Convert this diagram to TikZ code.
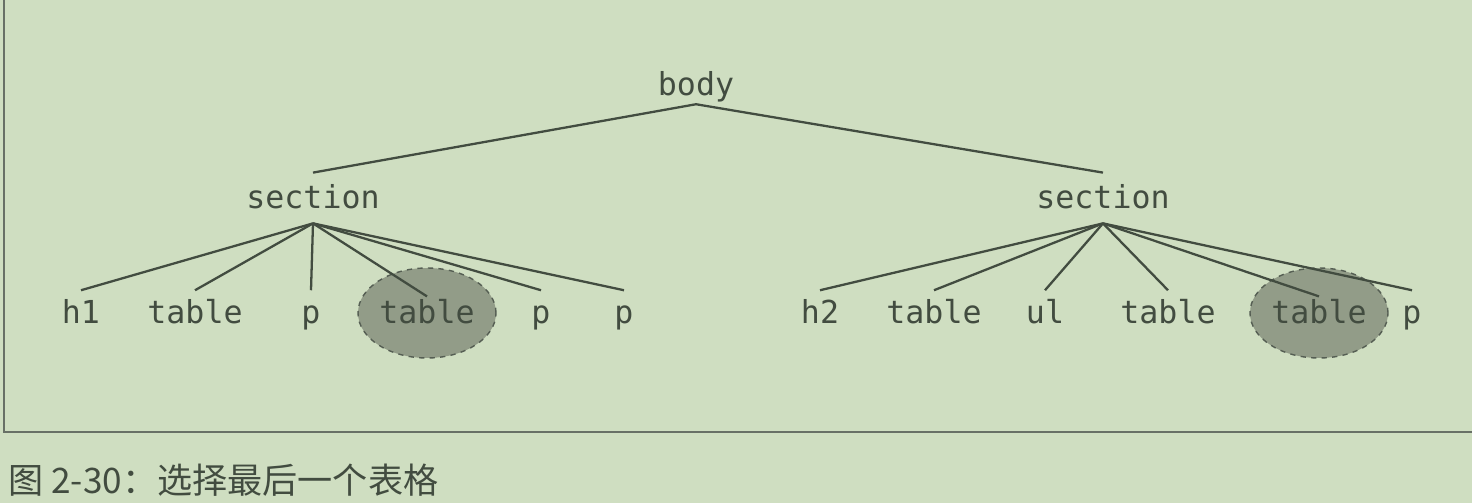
\documentclass[tikz,border=0pt]{standalone}
\usepackage{fontspec}
\setmonofont{DejaVu Sans Mono}
\newfontfamily\cjk{Noto Sans CJK SC}
\usetikzlibrary{shapes.geometric}

\definecolor{paper}{RGB}{207,222,193}
\definecolor{ink}{RGB}{66,76,64}
\definecolor{shade}{RGB}{146,156,136}

\begin{document}
\begin{tikzpicture}[
  x=0.02cm, y=-0.02cm,
  tag/.style = {text=ink, font=\ttfamily\fontsize{18}{21}\selectfont,
                inner sep=4pt, text height=14.7pt, text depth=2.8pt},
  pick/.style = {ellipse, draw=ink!90, dashed, fill=shade, thick,
                 minimum width=2.76cm, minimum height=1.8cm, inner sep=0pt},
  edge/.style = {draw=ink, line width=1.3pt}
  ]
	\fill[paper] (0,0) rectangle (1472,503);
	\useasboundingbox (0,0) rectangle (1472,503);

	% frame
	\draw[ink!80, line width=0.8pt] (4,0) -- (4,432) -- (1472,432);

	% selected tables
	\node[pick] (selL) at (427,313) {};
	\node[pick] (selR) at (1319,313) {};

	\node[tag, inner sep=2pt] (body) at (696,85) {body};

	\node[tag, inner sep=5.5pt] (secL) at (313,198) {section};
	\node[tag, inner sep=5.5pt] (secR) at (1103,198) {section};

	\node[tag] (h1)  at (81,313)  {h1};
	\node[tag] (tL1) at (195,313) {table};
	\node[tag] (pL1) at (311,313) {p};
	\node[tag] (tL2) at (selL.center) {table};
	\node[tag] (pL2) at (541,313) {p};
	\node[tag] (pL3) at (624,313) {p};

	\node[tag] (h2)  at (820,313)  {h2};
	\node[tag] (tR1) at (934,313)  {table};
	\node[tag] (ul)  at (1045,313) {ul};
	\node[tag] (tR2) at (1168,313) {table};
	\node[tag] (tR3) at (selR.center) {table};
	\node[tag] (pR)  at (1412,313) {p};

	\draw[edge] (secL.north) -- (body.south) -- (secR.north);

	\draw[edge] (secL.south) -- (h1.north);
	\draw[edge] (secL.south) -- (tL1.north);
	\draw[edge] (secL.south) -- (pL1.north);
	\draw[edge] (secL.south) -- ([yshift=-3.5pt]tL2.north);
	\draw[edge] (secL.south) -- (pL2.north);
	\draw[edge] (secL.south) -- (pL3.north);

	\draw[edge] (secR.south) -- (h2.north);
	\draw[edge] (secR.south) -- (tR1.north);
	\draw[edge] (secR.south) -- (ul.north);
	\draw[edge] (secR.south) -- (tR2.north);
	\draw[edge] (secR.south) -- ([yshift=-3.5pt]tR3.north);
	\draw[edge] (secR.south) -- (pR.north);

	\node[anchor=west, inner sep=0pt, text=ink, font=\cjk\fontsize{20}{23}\selectfont] (cap) at (8,480) {图 2-30：选择最后一个表格};
\end{tikzpicture}
\end{document}
